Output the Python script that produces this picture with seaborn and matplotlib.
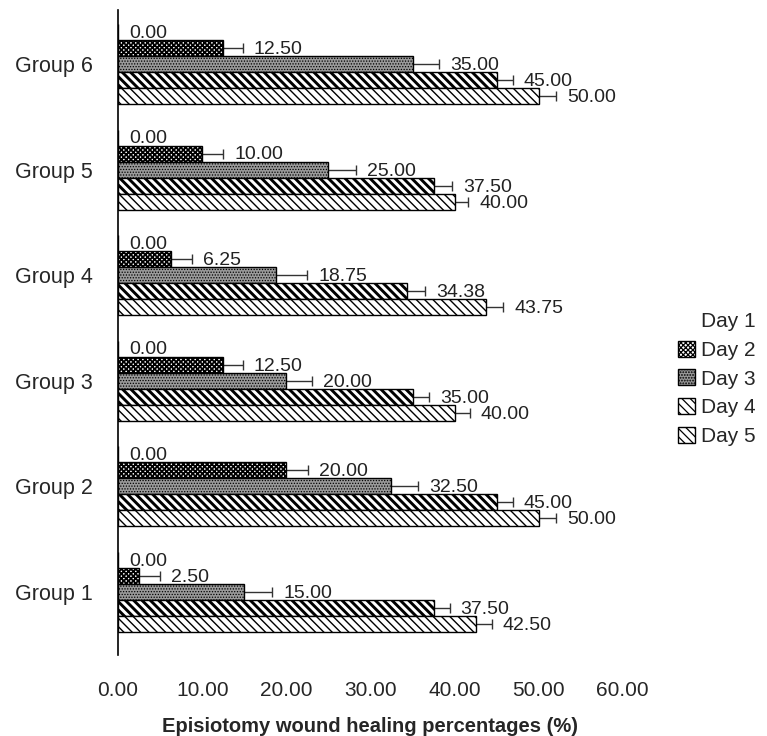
import numpy as np
import pandas as pd
import matplotlib
matplotlib.use("Agg")
import matplotlib.pyplot as plt
from matplotlib.patches import Patch
import seaborn as sns

# values
groups = ["Group 6", "Group 5", "Group 4", "Group 3", "Group 2", "Group 1"]
days = ["Day 1", "Day 2", "Day 3", "Day 4", "Day 5"]

day1 = [0.00, 0.00, 0.00, 0.00, 0.00, 0.00]
day2 = [12.50, 10.00, 6.25, 12.50, 20.00, 2.50]
day3 = [35.00, 25.00, 18.75, 20.00, 32.50, 15.00]
day4 = [45.00, 37.50, 34.38, 35.00, 45.00, 37.50]
day5 = [50.00, 40.00, 43.75, 40.00, 50.00, 42.50]

err1 = [0.0, 0.0, 0.0, 0.0, 0.0, 0.0]
err2 = [2.3, 2.5, 2.5, 2.3, 2.6, 2.5]
err3 = [3.2, 3.3, 3.7, 3.0, 3.2, 3.3]
err4 = [1.9, 2.2, 2.1, 2.0, 1.9, 1.9]
err5 = [2.1, 1.6, 2.0, 1.8, 2.1, 1.9]

values = [day1, day2, day3, day4, day5]
errors = [err1, err2, err3, err4, err5]

df = pd.DataFrame({
    "Group": np.tile(groups, len(days)),
    "Day": np.repeat(days, len(groups)),
    "Healing": np.concatenate(values),
})

sns.set_style("white")
plt.rcParams["font.family"] = ["Liberation Sans", "DejaVu Sans"]
plt.rcParams["hatch.linewidth"] = 0.9

fig = plt.figure(figsize=(7.67, 7.36), dpi=100)
ax = fig.add_axes([0.154, 0.110, 0.658, 0.876])

sns.barplot(data=df, y="Group", x="Healing", hue="Day", order=groups,
            hue_order=days, orient="h", palette=["white"] * 5,
            errorbar=None, width=0.76, edgecolor="black", linewidth=1,
            legend=False, ax=ax)

# fill styles for each day
styles = {
    "Day 1": dict(face="white", hatch=None, hlw=0.9),
    "Day 2": dict(face="white", hatch="xxxxxxx", hlw=1.3),
    "Day 3": dict(face="#9a9a9a", hatch="......", hlw=0.6),
    "Day 4": dict(face="white", hatch="\\\\\\\\", hlw=2.1),
    "Day 5": dict(face="white", hatch="\\\\\\\\", hlw=1.0),
}

for i, day in enumerate(days):
    st = styles[day]
    for j, bar in enumerate(ax.containers[i]):
        bar.set_facecolor(st["face"])
        bar.set_hatch(st["hatch"])
        if hasattr(bar, "set_hatch_linewidth"):
            bar.set_hatch_linewidth(st["hlw"])
        bar.set_zorder(3)
        y = bar.get_y() + bar.get_height() / 2
        val = values[i][j]
        e = errors[i][j]
        if e > 0:
            ax.errorbar(val, y, xerr=e, fmt="none", ecolor="#333333",
                        elinewidth=1, capsize=3.5, capthick=1, zorder=2)
        ax.annotate(f"{val:.2f}", xy=(val + e, y), xytext=(8, -1),
                    textcoords="offset points", ha="left", va="center",
                    fontsize=14, color="#222222", zorder=5)

ax.set_xlim(0, 60)
ax.set_ylim(5.6, -0.51)
ax.set_xticks(np.arange(0, 61, 10))
ax.set_xticklabels([f"{t:.2f}" for t in np.arange(0, 61, 10)], fontsize=15)
ax.tick_params(axis="y", labelsize=15.5, length=0, pad=18)
ax.tick_params(axis="x", length=0, pad=19)
ax.set_ylabel("")
ax.set_xlabel("Episiotomy wound healing percentages (%)", fontsize=14.5,
              fontweight="bold", labelpad=12)
for s in ["top", "right", "bottom"]:
    ax.spines[s].set_visible(False)
ax.spines["left"].set_color("black")
ax.spines["left"].set_linewidth(1.2)

handles = []
for day in days:
    st = styles[day]
    if day == "Day 1":
        handles.append(Patch(facecolor="white", edgecolor="white", label=day))
    else:
        handles.append(Patch(facecolor=st["face"], hatch=st["hatch"],
                             edgecolor="black", label=day))
fig.legend(handles=handles, loc="center left", bbox_to_anchor=(0.86, 0.485),
           frameon=False, fontsize=15, handlelength=0.8, handleheight=0.8,
           handletextpad=0.3, labelspacing=0.45)

fig.savefig("out.png", dpi=100)
